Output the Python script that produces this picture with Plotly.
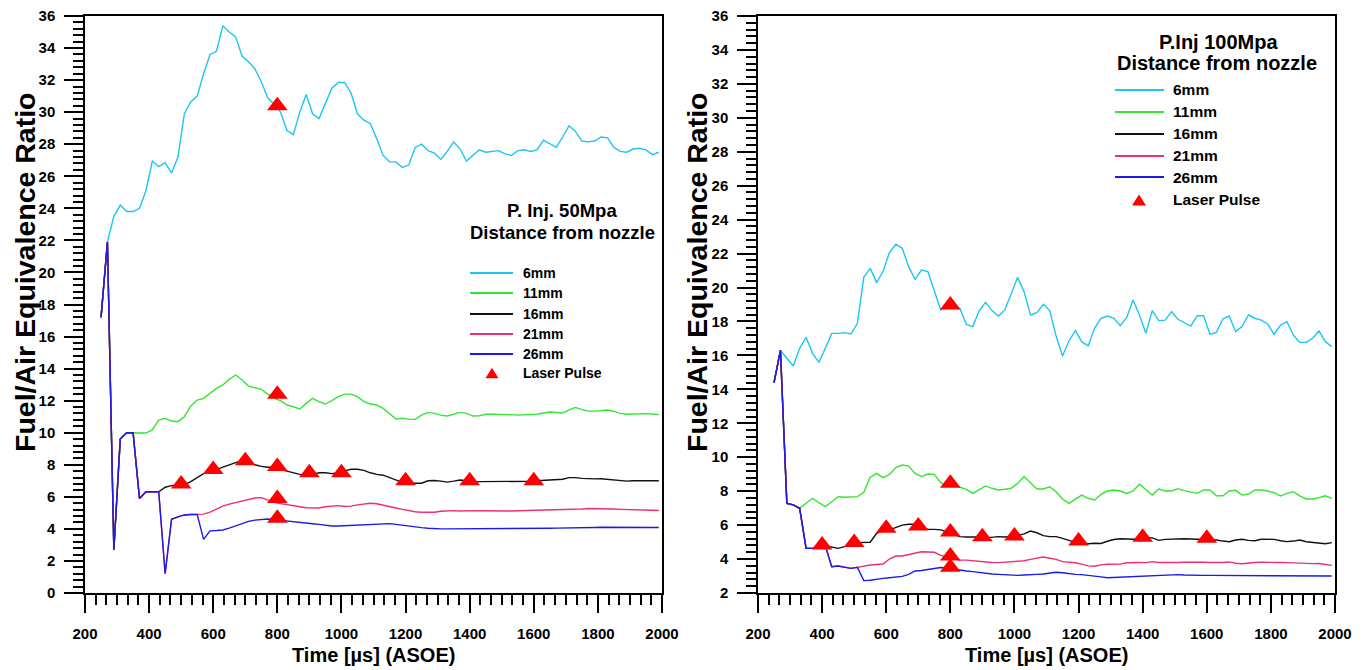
import plotly.graph_objects as go

# ---------------- data ----------------
TIME = list(range(250, 2000, 20))  # 20 us sampling, 250 ... 1990

LEFT_6MM = [
    17.2, 21.9, 23.5, 24.2, 23.8, 23.8, 24.0, 25.1, 26.95, 26.6,
    26.85, 26.2, 27.2, 29.9, 30.65, 31.0, 32.4, 33.6, 33.8, 35.4,
    35.0, 34.7, 33.5, 33.15, 32.7, 31.9, 30.9, 30.5, 30.0, 28.85,
    28.6, 30.0, 31.1, 29.9, 29.6, 30.55, 31.5, 31.85, 31.85, 31.2,
    29.9, 29.5, 29.3, 28.35, 27.3, 26.9, 26.9, 26.55, 26.7, 27.8,
    28.0, 27.6, 27.45, 27.05, 27.55, 28.15, 27.7, 26.95, 27.3, 27.65,
    27.5, 27.55, 27.6, 27.4, 27.3, 27.6, 27.65, 27.55, 27.65, 28.25,
    28.05, 27.8, 28.45, 29.15, 28.8, 28.2, 28.15, 28.2, 28.45, 28.4,
    27.8, 27.55, 27.5, 27.7, 27.75, 27.65, 27.35, 27.5,
]
LEFT_11MM = [
    17.2, 21.9, 2.7, 9.6, 10.0, 10.0, 9.97, 9.98, 10.17, 10.79,
    10.9, 10.73, 10.69, 11.0, 11.67, 12.04, 12.14, 12.46, 12.77, 12.98,
    13.33, 13.6, 13.29, 12.91, 12.81, 12.71, 12.41, 12.14, 12.0, 11.73,
    11.62, 11.48, 11.83, 12.14, 11.94, 11.79, 12.0, 12.25, 12.41, 12.41,
    12.25, 11.94, 11.79, 11.73, 11.52, 11.21, 10.85, 10.9, 10.83, 10.83,
    11.1, 11.27, 11.21, 11.1, 11.04, 11.15, 11.27, 11.21, 11.04, 11.06,
    11.15, 11.15, 11.15, 11.15, 11.13, 11.1, 11.13, 11.15, 11.15, 11.23,
    11.29, 11.27, 11.23, 11.42, 11.58, 11.44, 11.35, 11.35, 11.4, 11.42,
    11.33, 11.21, 11.15, 11.17, 11.21, 11.19, 11.17, 11.13,
]
LEFT_16MM = [
    17.2, 21.9, 2.7, 9.6, 10.0, 10.0, 5.9, 6.32, 6.32, 6.32,
    6.6, 6.7, 6.74, 6.76, 6.95, 7.2, 7.45, 7.6, 7.7, 7.85,
    8.0, 8.15, 8.27, 8.2, 8.0, 7.9, 7.85, 7.85, 7.7, 7.6,
    7.5, 7.4, 7.35, 7.4, 7.5, 7.5, 7.45, 7.5, 7.62, 7.72,
    7.72, 7.65, 7.5, 7.4, 7.35, 7.2, 7.05, 6.9, 6.85, 6.85,
    6.85, 7.0, 7.02, 6.98, 6.92, 6.98, 7.05, 7.0, 6.9, 6.95,
    6.95, 6.95, 6.95, 6.95, 6.95, 6.95, 6.95, 6.97, 7.0, 7.02,
    7.05, 7.05, 7.1, 7.2, 7.2, 7.15, 7.12, 7.12, 7.13, 7.1,
    7.05, 7.0, 6.98, 7.0, 7.0, 7.0, 7.0, 7.0,
]
LEFT_21MM = [
    17.2, 21.9, 2.7, 9.6, 10.0, 10.0, 5.9, 6.32, 6.32, 6.32,
    1.2, 4.6, 4.75, 4.87, 4.9, 4.9, 4.92, 5.05, 5.25, 5.42,
    5.55, 5.65, 5.75, 5.85, 5.93, 5.95, 5.78, 5.65, 5.58, 5.5,
    5.45, 5.38, 5.32, 5.3, 5.3, 5.38, 5.43, 5.45, 5.4, 5.42,
    5.5, 5.57, 5.6, 5.57, 5.47, 5.38, 5.3, 5.22, 5.14, 5.07,
    5.04, 5.02, 5.04, 5.1, 5.14, 5.14, 5.12, 5.14, 5.14, 5.13,
    5.12, 5.13, 5.13, 5.13, 5.12, 5.13, 5.14, 5.14, 5.14, 5.15,
    5.16, 5.16, 5.17, 5.19, 5.2, 5.24, 5.27, 5.27, 5.26, 5.26,
    5.24, 5.22, 5.2, 5.2, 5.19, 5.18, 5.16, 5.15,
]
LEFT_26MM = [
    17.2, 21.9, 2.7, 9.6, 10.0, 10.0, 5.9, 6.32, 6.32, 6.32,
    1.2, 4.6, 4.75, 4.87, 4.9, 4.9, 3.35, 3.88, 3.9, 3.93,
    4.05, 4.2, 4.35, 4.47, 4.55, 4.6, 4.62, 4.58, 4.53, 4.48,
    4.45, 4.42, 4.37, 4.32, 4.28, 4.22, 4.18, 4.18, 4.2, 4.24,
    4.25, 4.25, 4.28, 4.33, 4.35, 4.33, 4.28, 4.22, 4.17, 4.12,
    4.08, 4.04, 4.01, 4.0, 4.0, 4.0, 4.02, 4.04, 4.04, 4.04,
    4.04, 4.04, 4.04, 4.04, 4.04, 4.04, 4.04, 4.04, 4.04, 4.04,
    4.04, 4.05, 4.05, 4.06, 4.06, 4.07, 4.08, 4.09, 4.1, 4.1,
    4.11, 4.12, 4.12, 4.12, 4.11, 4.1, 4.09, 4.09,
]

RIGHT_6MM = [
    14.4, 16.3, 15.83, 15.38, 16.42, 17.07, 16.12, 15.59, 16.42, 17.3,
    17.3, 17.34, 17.26, 17.89, 20.6, 21.13, 20.29, 20.94, 22.06, 22.55,
    22.31, 21.23, 20.48, 21.03, 20.94, 19.76, 18.68, 18.85, 18.8, 18.75,
    17.83, 17.7, 18.64, 19.13, 18.64, 18.32, 18.68, 19.7, 20.6, 19.76,
    18.38, 18.52, 19.01, 18.64, 17.14, 15.97, 16.85, 17.46, 16.81, 16.56,
    17.6, 18.19, 18.32, 18.19, 17.75, 18.22, 19.27, 18.38, 17.3, 18.64,
    18.05, 18.08, 18.58, 18.13, 17.93, 17.73, 18.34, 18.34, 17.24, 17.36,
    18.15, 18.32, 17.4, 17.7, 18.38, 18.19, 18.08, 17.85, 17.24, 17.79,
    17.99, 17.2, 16.77, 16.77, 17.01, 17.44, 16.81, 16.52,
]
RIGHT_11MM = [
    14.4, 16.3, 7.28, 7.19, 6.99, 7.28, 7.58, 7.32, 7.09, 7.38,
    7.68, 7.64, 7.68, 7.68, 7.93, 8.82, 9.05, 8.8, 8.99, 9.39,
    9.54, 9.48, 9.05, 8.86, 9.01, 8.99, 8.5, 8.36, 8.36, 8.23,
    8.11, 7.87, 8.11, 8.31, 8.17, 8.07, 8.11, 8.17, 8.46, 8.86,
    8.5, 8.13, 8.13, 8.26, 7.97, 7.54, 7.28, 7.52, 7.77, 7.58,
    7.48, 7.81, 8.01, 8.07, 8.01, 7.87, 8.01, 8.41, 8.07, 7.77,
    8.13, 8.01, 8.01, 8.15, 8.03, 7.93, 7.87, 8.07, 8.07, 7.73,
    7.73, 8.01, 8.05, 7.77, 7.83, 8.07, 8.07, 8.01, 7.91, 7.72,
    7.87, 7.97, 7.72, 7.54, 7.54, 7.62, 7.73, 7.58,
]
RIGHT_16MM = [
    14.4, 16.3, 7.28, 7.19, 6.99, 4.63, 4.63, 4.75, 4.78, 4.69,
    4.63, 4.73, 4.88, 4.97, 4.97, 4.99, 5.52, 5.7, 5.72, 5.87,
    6.0, 6.05, 6.05, 5.9, 5.75, 5.75, 5.72, 5.6, 5.45, 5.32,
    5.3, 5.32, 5.3, 5.25, 5.28, 5.32, 5.3, 5.34, 5.38, 5.48,
    5.65, 5.55, 5.38, 5.32, 5.32, 5.22, 5.12, 4.98, 4.93, 4.9,
    4.93, 4.92, 5.05, 5.15, 5.2, 5.18, 5.17, 5.2, 5.27, 5.25,
    5.1, 5.16, 5.18, 5.2, 5.2, 5.18, 5.17, 5.16, 5.15, 5.12,
    5.06, 5.02, 5.12, 5.17, 5.1, 5.08, 5.17, 5.18, 5.16, 5.08,
    5.03, 5.06, 5.12, 5.02, 4.98, 4.9, 4.9, 4.97,
]
RIGHT_21MM = [
    14.4, 16.3, 7.28, 7.19, 6.99, 4.63, 4.63, 4.75, 4.78, 3.55,
    3.59, 3.52, 3.45, 3.51, 3.6, 3.65, 3.68, 3.71, 4.0, 4.18,
    4.18, 4.25, 4.35, 4.43, 4.42, 4.4, 4.22, 4.12, 4.05, 3.94,
    3.94, 3.9, 3.9, 3.85, 3.8, 3.79, 3.82, 3.88, 3.9, 3.9,
    3.98, 4.06, 4.12, 4.05, 3.98, 3.85, 3.82, 3.78, 3.7, 3.6,
    3.58, 3.66, 3.69, 3.68, 3.7, 3.78, 3.81, 3.8, 3.79, 3.85,
    3.8, 3.79, 3.79, 3.8, 3.81, 3.82, 3.82, 3.81, 3.8, 3.79,
    3.8, 3.83, 3.75, 3.72, 3.78, 3.8, 3.81, 3.82, 3.81, 3.8,
    3.79, 3.77, 3.76, 3.72, 3.73, 3.74, 3.68, 3.63,
]
RIGHT_26MM = [
    14.4, 16.3, 7.28, 7.19, 6.99, 4.63, 4.63, 4.75, 4.78, 3.55,
    3.59, 3.52, 3.45, 3.51, 2.73, 2.75, 2.82, 2.86, 2.9, 2.94,
    2.98, 3.1, 3.3, 3.33, 3.38, 3.45, 3.5, 3.47, 3.4, 3.33,
    3.3, 3.26, 3.2, 3.15, 3.12, 3.1, 3.07, 3.06, 3.04, 3.06,
    3.1, 3.1, 3.12, 3.18, 3.22, 3.19, 3.13, 3.1, 3.08, 3.05,
    3.0, 2.95, 2.9, 2.92, 2.94, 2.95, 2.96, 2.98, 3.02, 3.03,
    3.04, 3.05, 3.06, 3.08, 3.06, 3.04, 3.04, 3.04, 3.04, 3.04,
    3.03, 3.03, 3.03, 3.02, 3.02, 3.01, 3.02, 3.03, 3.04, 3.04,
    3.04, 3.03, 3.02, 3.01, 3.01, 3.0, 3.0, 3.0,
]

LEFT_LASER_T = [500, 600, 700, 800, 900, 1000, 1200, 1400, 1600, 800, 800, 800, 800]
LEFT_LASER_Y = [6.8, 7.7, 8.25, 7.9, 7.5, 7.5, 7.0, 7.0, 7.0, 30.4, 12.4, 5.9, 4.66]
RIGHT_LASER_T = [400, 500, 600, 700, 800, 900, 1000, 1200, 1400, 1600, 800, 800, 800, 800]
RIGHT_LASER_Y = [4.83, 4.97, 5.81, 5.95, 5.59, 5.32, 5.36, 5.06, 5.28, 5.22, 18.97, 8.46, 4.18, 3.51]

SERIES_NAMES = ["6mm", "11mm", "16mm", "21mm", "26mm"]
LASER_NAME = "Laser Pulse"
LEFT_TITLE = ["P. Inj. 50Mpa", "Distance from nozzle"]
RIGHT_TITLE = ["P.Inj 100Mpa", "Distance from nozzle"]
X_TITLE = "Time [µs] (ASOE)"
Y_TITLE = "Fuel/Air Equivalence Ratio"

# ---------------- styling ----------------
COLORS = ["#1CC6F4", "#33E633", "#111111", "#EE2C78", "#1B1BE8"]
LASER_COLOR = "#FF0000"
FONT = "Liberation Sans, Arial, Helvetica, sans-serif"
W, H = 1369, 670


def fx(p):
    return p / W


def fy(p):
    return 1 - p / H


fig = go.Figure()

left = [LEFT_6MM, LEFT_11MM, LEFT_16MM, LEFT_21MM, LEFT_26MM]
right = [RIGHT_6MM, RIGHT_11MM, RIGHT_16MM, RIGHT_21MM, RIGHT_26MM]
for vals_set, xa, ya in [(left, "x", "y"), (right, "x2", "y2")]:
    for name, vals, col in zip(SERIES_NAMES, vals_set, COLORS):
        fig.add_trace(go.Scatter(
            x=TIME, y=vals, mode="lines", name=name,
            line=dict(color=col, width=1.4),
            xaxis=xa, yaxis=ya, showlegend=False, hoverinfo="skip"))

for tt, yy, xa, ya in [(LEFT_LASER_T, LEFT_LASER_Y, "x", "y"),
                       (RIGHT_LASER_T, RIGHT_LASER_Y, "x2", "y2")]:
    fig.add_trace(go.Scatter(
        x=tt, y=yy, mode="markers", name=LASER_NAME,
        marker=dict(symbol="triangle-up", size=18, color=LASER_COLOR,
                    line=dict(width=0)),
        xaxis=xa, yaxis=ya, showlegend=False, hoverinfo="skip"))

tickfont = dict(family=FONT, size=15, color="black", weight="bold")

xcommon = dict(
    range=[200, 2000], tick0=200, dtick=200, ticks="outside", ticklen=18,
    tickwidth=1.5, tickcolor="black", showline=True, linecolor="black",
    linewidth=1.5, mirror=True, showgrid=False, zeroline=False,
    tickfont=tickfont, ticklabelstandoff=8, automargin=False,
    minor=dict(tick0=200, dtick=200 / 6, ticks="outside", ticklen=10,
               tickwidth=1.5, tickcolor="black", showgrid=False),
)
ycommon = dict(
    dtick=2, ticks="outside", ticklen=19, tickwidth=1.5, tickcolor="black",
    showline=True, linecolor="black", linewidth=1.5, mirror=True,
    showgrid=False, zeroline=False, tickfont=tickfont, ticklabelstandoff=6,
    automargin=False,
    minor=dict(dtick=0.4, ticks="outside", ticklen=10, tickwidth=1.5,
               tickcolor="black", showgrid=False),
)

ydom = [fy(593), fy(16)]
fig.update_layout(
    width=W, height=H, autosize=False,
    margin=dict(l=0, r=0, t=0, b=0, pad=0, autoexpand=False),
    paper_bgcolor="white", plot_bgcolor="white",
    showlegend=False,
    xaxis=dict(domain=[fx(85), fx(662)], anchor="y", **xcommon),
    yaxis=dict(domain=ydom, anchor="x", range=[0, 36], tick0=0, **ycommon),
    xaxis2=dict(domain=[fx(758), fx(1335)], anchor="y2", **xcommon),
    yaxis2=dict(domain=ydom, anchor="x2", range=[2, 36], tick0=2, **ycommon),
)

ann = []
shapes = []


def text(x, y, s, size, xanchor="center", angle=0):
    ann.append(dict(x=fx(x), y=fy(y), xref="paper", yref="paper", text=s,
                    showarrow=False, xanchor=xanchor, yanchor="middle",
                    textangle=angle,
                    font=dict(family=FONT, size=size, color="black",
                              weight="bold")))


# axis titles
text(373.5, 655, X_TITLE, 20)
text(1046.5, 655, X_TITLE, 20)
text(25, 272, Y_TITLE, 28.5, angle=-90)
text(697, 272, Y_TITLE, 28.5, angle=-90)

# legend blocks
legend_specs = [
    dict(title=LEFT_TITLE, tpos=[(562, 211), (562, 232)], tsize=18.5,
         x0=470, x1=513, tx=521, ys=[273, 293, 314, 334, 354, 373],
         tri_x=492, tri_w=13, tri_h=10.5, fsize=14),
    dict(title=RIGHT_TITLE, tpos=[(1218, 42), (1217, 63)], tsize=20,
         x0=1115, x1=1164, tx=1171, ys=[90, 112, 134, 156, 177, 200],
         tri_x=1139, tri_w=14, tri_h=11, fsize=15.5),
]
for spec in legend_specs:
    for line_txt, (tx_, ty_) in zip(spec["title"], spec["tpos"]):
        text(tx_, ty_, line_txt, spec["tsize"])
    for i, (name, col) in enumerate(zip(SERIES_NAMES, COLORS)):
        yy = spec["ys"][i]
        shapes.append(dict(type="line", xref="paper", yref="paper",
                           x0=fx(spec["x0"]), x1=fx(spec["x1"]),
                           y0=fy(yy), y1=fy(yy),
                           line=dict(color=col, width=2)))
        text(spec["tx"], yy, name, spec["fsize"], xanchor="left")
    yy = spec["ys"][5]
    cx, w2, h = spec["tri_x"], spec["tri_w"] / 2, spec["tri_h"]
    path = "M {:.5f},{:.5f} L {:.5f},{:.5f} L {:.5f},{:.5f} Z".format(
        fx(cx - w2), fy(yy + h / 2), fx(cx + w2), fy(yy + h / 2),
        fx(cx), fy(yy - h / 2))
    shapes.append(dict(type="path", xref="paper", yref="paper", path=path,
                       fillcolor=LASER_COLOR, line=dict(width=0)))
    text(spec["tx"], yy, LASER_NAME, spec["fsize"], xanchor="left")

fig.update_layout(annotations=ann, shapes=shapes)
fig.write_html("out.html")
